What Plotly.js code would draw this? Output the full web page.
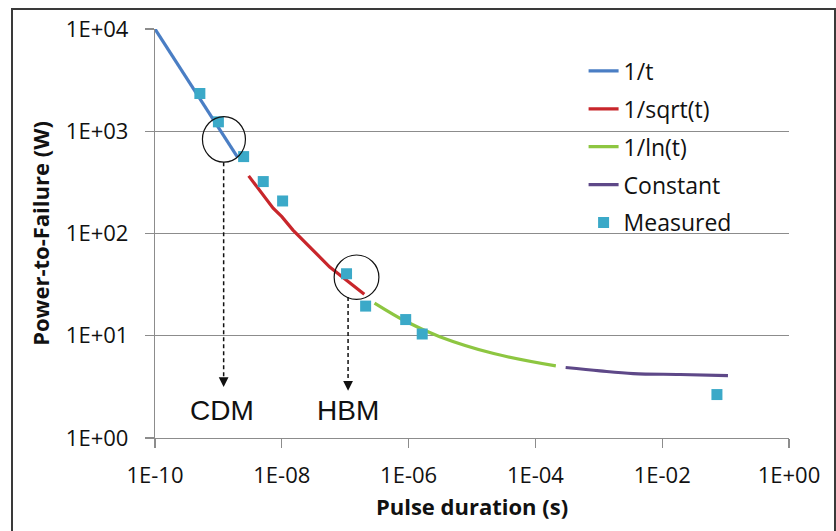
<!DOCTYPE html>
<html>
<head>
<meta charset="utf-8">
<script src="https://cdn.plot.ly/plotly-3.0.1.min.js"></script>
<style>
  html, body { margin: 0; padding: 0; background: #ffffff; overflow: hidden; }
  #chart { position: absolute; left: 0; top: 0; width: 836px; height: 531px; }
  #frame { position: absolute; left: 11px; top: 8px; width: 821px; height: 600px;
           border: 2px solid #3a3a3a; pointer-events: none; }
</style>
</head>
<body>
<div id="chart"></div>
<div id="frame"></div>
<script>
// ---- data ----
const invTX = [1e-10, 1e-9, 2e-9];
const invTY = [10000, 1090, 557];

const invSqrtX = [3e-9, 7.3e-9, 1e-8, 1.5e-8, 5.7e-8, 2e-7];
const invSqrtY = [366, 177, 146, 108, 47, 25.4];

const invLnX = [2.9e-7, 9.3e-7, 3.1e-6, 2.2e-5, 2.1e-4];
const invLnY = [20.9, 13.7, 9.8, 6.7, 5.07];

const constX = [3e-4, 1.05e-3, 3.5e-3, 1.9e-2, 0.109];
const constY = [4.89, 4.53, 4.27, 4.18, 4.08];

const measuredX = [5.1e-10, 1.0e-9, 2.5e-9, 5.1e-9, 1.03e-8, 1.05e-7, 2.1e-7, 9.0e-7, 1.64e-6, 0.073];
const measuredY = [2340, 1236, 565, 322, 208, 40.4, 19.5, 14.4, 10.4, 2.66];

const seriesNames = ['1/t', '1/sqrt(t)', '1/ln(t)', 'Constant', 'Measured'];

const xTickVals = [1e-10, 1e-8, 1e-6, 1e-4, 1e-2, 1];
const xTickText = ['1E-10', '1E-08', '1E-06', '1E-04', '1E-02', '1E+00'];
const yTickVals = [1, 10, 100, 1000, 10000];
const yTickText = ['1E+00', '1E+01', '1E+02', '1E+03', '1E+04'];

// annotation markers (ellipses, dashed arrows, labels)
const markLabels = ['CDM', 'HBM'];
const ellipseX0 = [5.6e-10, 6.7e-8];
const ellipseX1 = [2.67e-9, 3.4e-7];
const ellipseY0 = [498, 22.7];
const ellipseY1 = [1393, 61.6];
const arrowX = [1.21e-9, 1.11e-7];
const arrowTopY = [498, 23.9];
const arrowTipY = [3.16, 2.89];
const labelX = [1.14e-9, 1.09e-7];
const labelY = [1.84, 1.84];

// ---- traces ----
const colors = ['#4a7ec4', '#c8262b', '#8dc641', '#5e4888', '#3ba9c8'];
function lineTrace(x, y, i, shape) {
  return { x: x, y: y, type: 'scatter', mode: 'lines', name: seriesNames[i],
           legendgroup: 'g' + i,
           line: { color: colors[i], width: 3.2, shape: shape || 'linear' } };
}
const traces = [
  lineTrace(invTX, invTY, 0),
  lineTrace(invSqrtX, invSqrtY, 1),
  lineTrace(invLnX, invLnY, 2, 'spline'),
  lineTrace(constX, constY, 3, 'spline'),
  { x: measuredX, y: measuredY, type: 'scatter', mode: 'markers', name: seriesNames[4],
    legendgroup: 'g4',
    marker: { symbol: 'square', size: 11, color: colors[4] } }
];

const shapes = [];
const annotations = [];
for (let i = 0; i < markLabels.length; i++) {
  shapes.push({ type: 'circle', xref: 'x', yref: 'y',
    x0: ellipseX0[i], x1: ellipseX1[i], y0: ellipseY0[i], y1: ellipseY1[i],
    line: { color: '#111111', width: 1.2 } });
  shapes.push({ type: 'line', xref: 'x', yref: 'y',
    x0: arrowX[i], x1: arrowX[i], y0: arrowTopY[i], y1: arrowTipY[i] * 1.12,
    line: { color: '#111111', width: 1.5, dash: '4px,3px' } });
  annotations.push({ xref: 'x', yref: 'y', x: Math.log10(arrowX[i]), y: Math.log10(arrowTipY[i]),
    text: '', showarrow: true, arrowhead: 2, arrowsize: 1.3, arrowwidth: 1.5,
    arrowcolor: '#111111', ax: 0, ay: -7 });
  annotations.push({ xref: 'x', yref: 'y', x: Math.log10(labelX[i]), y: Math.log10(labelY[i]),
    text: markLabels[i], showarrow: false,
    font: { family: 'Liberation Sans, Arial, sans-serif', size: 28, color: '#111111' } });
}

const tickFont = { family: 'Open Sans, sans-serif', size: 22, color: '#111111' };
const titleFont = { family: 'Open Sans, sans-serif', size: 22, color: '#111111', weight: 'bold' };

const layout = {
  width: 836, height: 531,
  margin: { l: 155, r: 47, t: 29, b: 93 },
  paper_bgcolor: 'rgba(0,0,0,0)',
  plot_bgcolor: '#ffffff',
  showlegend: true,
  legend: { x: 0.676, xanchor: 'left', y: 0.95, yanchor: 'top',
            font: { family: 'Open Sans, sans-serif', size: 23, color: '#111111' },
            bgcolor: 'rgba(255,255,255,0)', tracegroupgap: 5, traceorder: 'grouped' },
  xaxis: {
    type: 'log', range: [-10, 0], tickvals: xTickVals, ticktext: xTickText,
    showgrid: false, zeroline: false, showline: true, linecolor: '#8c8c8c', linewidth: 1.2,
    ticks: 'outside', ticklen: 9, tickcolor: '#8c8c8c', tickwidth: 1.2,
    ticklabelstandoff: 8, tickfont: tickFont,
    title: { text: 'Pulse duration (s)', font: titleFont, standoff: 12 }
  },
  yaxis: {
    type: 'log', range: [0, 4], tickvals: yTickVals, ticktext: yTickText,
    showgrid: true, gridcolor: '#8c8c8c', gridwidth: 1.2, zeroline: false,
    showline: true, linecolor: '#8c8c8c', linewidth: 1.2,
    ticks: 'outside', ticklen: 9, tickcolor: '#8c8c8c', tickwidth: 1.2,
    ticklabelstandoff: 12, tickfont: tickFont,
    title: { text: 'Power-to-Failure (W)', font: titleFont, standoff: 10 }
  },
  shapes: shapes,
  annotations: annotations
};

Plotly.newPlot('chart', traces, layout, { displayModeBar: false, staticPlot: true });
</script>
</body>
</html>
